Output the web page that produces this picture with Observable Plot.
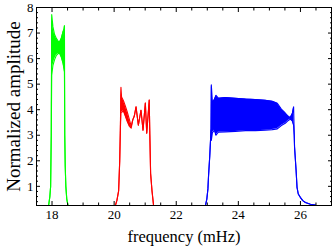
<!DOCTYPE html>
<html><head><meta charset="utf-8">
<script src="https://cdn.jsdelivr.net/npm/d3@7"></script>
<script src="https://cdn.jsdelivr.net/npm/@observablehq/plot@0.6"></script>
<style>body{margin:0;background:#fff}</style>
</head><body><div id="chart"></div>
<script>
// Green series (frequency in mHz, lower and upper envelope of the oscillation)
const greenFreq = [17.89, 17.93, 17.955, 17.975, 17.99, 18.03, 18.08, 18.14, 18.2, 18.245, 18.3, 18.355, 18.385, 18.4, 18.41, 18.425, 18.445, 18.475, 18.515];
const greenLo   = [0.25, 0.6, 1.0, 3.0, 5.35, 5.74, 5.95, 6.13, 6.2, 6.2, 6.05, 5.81, 5.6, 5.48, 3.0, 1.8, 1.0, 0.5, 0.25];
const greenHi   = [0.25, 0.6, 1.0, 3.0, 7.72, 7.24, 6.95, 6.79, 6.68, 6.65, 6.8, 7.05, 7.15, 7.29, 3.0, 1.8, 1.0, 0.5, 0.25];

// Red series
const redFreq = [20.04, 20.09, 20.145, 20.18, 20.2, 20.22, 20.24, 20.3, 20.36, 20.42, 20.49, 20.55, 20.6, 20.65, 20.705, 20.78, 20.865, 20.93, 21.005, 21.05, 21.13, 21.15, 21.175, 21.22, 21.27];
const redLo   = [0.25, 0.45, 0.82, 2.0, 3.2, 3.9, 3.9, 3.95, 3.75, 3.55, 3.35, 3.28, 3.6, 3.75, 4.11, 3.39, 3.98, 3.2, 4.26, 3.08, 4.38, 3.0, 1.5, 0.82, 0.25];
const redHi   = [0.25, 0.45, 0.82, 2.0, 3.2, 4.88, 4.5, 4.35, 4.15, 3.92, 3.62, 3.35, 3.6, 3.75, 4.11, 3.39, 3.98, 3.2, 4.26, 3.08, 4.38, 3.0, 1.5, 0.82, 0.25];

// Blue series
const blueFreq = [22.94, 22.985, 23.02, 23.04, 23.08, 23.12, 23.13, 23.165, 23.23, 23.28, 23.355, 23.58, 23.9, 24.23, 24.55, 24.87, 25.095, 25.255, 25.385, 25.51, 25.61, 25.675, 25.74, 25.78, 25.8, 25.81, 25.86, 25.89, 25.93, 25.995, 26.075, 26.16, 26.32, 26.48];
const blueLo   = [0.25, 0.5, 0.9, 1.4, 2.2, 3.2, 2.8, 3.1, 3.2, 3.0, 3.12, 3.13, 3.15, 3.18, 3.18, 3.2, 3.22, 3.25, 3.38, 3.47, 3.58, 3.63, 3.55, 3.39, 3.0, 2.54, 1.62, 0.96, 0.7, 0.57, 0.44, 0.37, 0.3, 0.27];
const blueHi   = [0.25, 0.5, 0.9, 1.4, 2.2, 3.2, 4.97, 4.3, 4.4, 4.56, 4.45, 4.48, 4.45, 4.42, 4.4, 4.37, 4.33, 4.25, 4.02, 3.87, 3.74, 3.69, 3.85, 4.11, 3.0, 2.54, 1.62, 0.96, 0.7, 0.57, 0.44, 0.37, 0.3, 0.27];

// Axis ticks
const xTickLabels = [18, 20, 22, 24, 26];
const yTickLabels = [1, 2, 3, 4, 5, 6, 7, 8];
const xMinor = d3.range(17.5, 27.01, 0.5).filter(v => !xTickLabels.includes(v));
const yMinor = d3.range(0.4, 8.0, 0.2).map(v => +v.toFixed(1)).filter(v => !yTickLabels.includes(v));

const rows = (F, L, H) => F.map((f, i) => ({f, lo: L[i], hi: H[i]}));
const series = [
  {data: rows(greenFreq, greenLo, greenHi), color: "#00ff00"},
  {data: rows(redFreq, redLo, redHi), color: "#ff0000"},
  {data: rows(blueFreq, blueLo, blueHi), color: "#0000ff"}
];

const marks = [];
for (const s of series) {
  marks.push(Plot.areaY(s.data, {x: "f", y1: "lo", y2: "hi", fill: s.color, clip: true}));
  marks.push(Plot.line(s.data, {x: "f", y: "hi", stroke: s.color, strokeWidth: 1.1, clip: true}));
  marks.push(Plot.line(s.data, {x: "f", y: "lo", stroke: s.color, strokeWidth: 1.1, clip: true}));
}

const blank = () => "";
const tickAxes = [
  Plot.axisX({anchor: "bottom", ticks: xTickLabels, tickSize: -4, tickFormat: blank, label: null}),
  Plot.axisX({anchor: "bottom", ticks: xMinor, tickSize: -2.5, tickFormat: blank, label: null}),
  Plot.axisX({anchor: "top", ticks: xTickLabels, tickSize: -4, tickFormat: blank, label: null}),
  Plot.axisX({anchor: "top", ticks: xMinor, tickSize: -2.5, tickFormat: blank, label: null}),
  Plot.axisY({anchor: "left", ticks: yTickLabels, tickSize: -4, tickFormat: blank, label: null}),
  Plot.axisY({anchor: "left", ticks: yMinor, tickSize: -2, tickFormat: blank, label: null}),
  Plot.axisY({anchor: "right", ticks: yTickLabels, tickSize: -4, tickFormat: blank, label: null}),
  Plot.axisY({anchor: "right", ticks: yMinor, tickSize: -2, tickFormat: blank, label: null})
];

const chart = Plot.plot({
  width: 332,
  height: 250,
  marginTop: 7,
  marginRight: 1,
  marginBottom: 45,
  marginLeft: 36,
  style: {fontFamily: "Liberation Serif", fontSize: "13px", background: "white", color: "black"},
  x: {domain: [17.5, 27]},
  y: {domain: [0.25, 8]},
  marks: [
    ...marks,
    ...tickAxes,
    Plot.axisX({anchor: "bottom", ticks: xTickLabels, tickSize: 0, tickPadding: 4, label: null, fontSize: 13}),
    Plot.axisY({anchor: "left", ticks: yTickLabels, tickSize: 0, tickPadding: 3, label: null, fontSize: 13}),
    Plot.frame({stroke: "black", strokeWidth: 1}),
    Plot.text(["frequency (mHz)"], {frameAnchor: "bottom", dy: 36, fontSize: 16.5, fill: "black", textAnchor: "middle"}),
    Plot.text(["Normalized amplitude"], {frameAnchor: "left", rotate: -90, dx: -23, fontSize: 19, fill: "black", textAnchor: "middle"})
  ]
});
document.getElementById("chart").appendChild(chart);
</script>
</body></html>
